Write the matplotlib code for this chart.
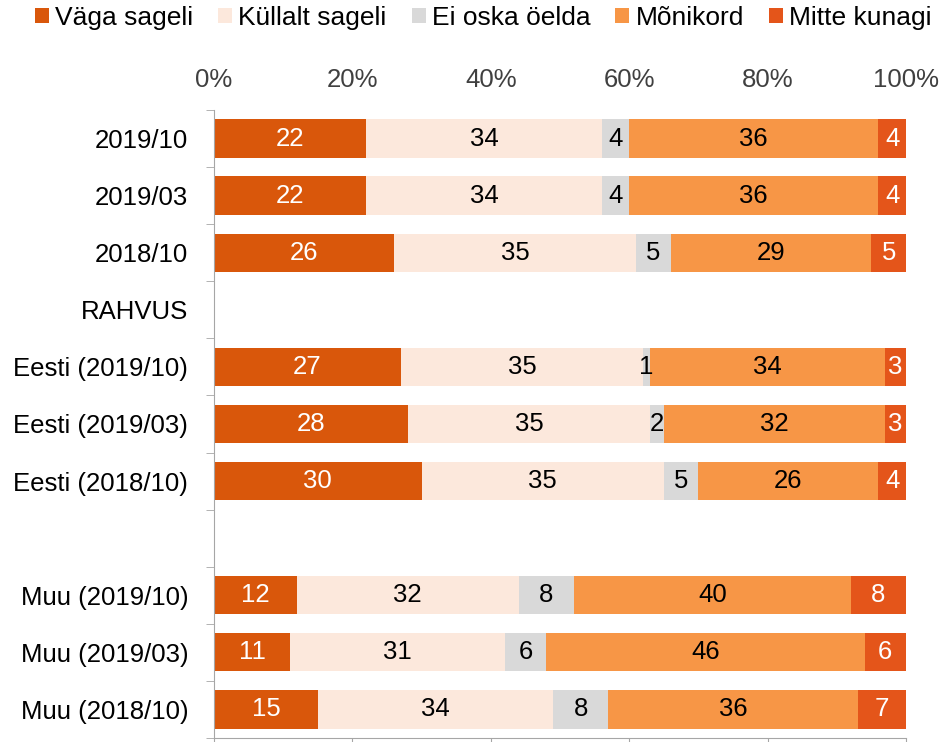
import numpy as np
import matplotlib.pyplot as plt

plt.rcParams['font.family'] = ['Liberation Sans', 'DejaVu Sans']

categories = ['2019/10', '2019/03', '2018/10', 'RAHVUS',
              'Eesti (2019/10)', 'Eesti (2019/03)', 'Eesti (2018/10)', '',
              'Muu (2019/10)', 'Muu (2019/03)', 'Muu (2018/10)']
series = ['Väga sageli', 'Küllalt sageli', 'Ei oska öelda', 'Mõnikord', 'Mitte kunagi']
# None = empty row
vaga = [22, 22, 26, None, 27, 28, 30, None, 12, 11, 15]
kullalt = [34, 34, 35, None, 35, 35, 35, None, 32, 31, 34]
eioska = [4, 4, 5, None, 1, 2, 5, None, 8, 6, 8]
monikord = [36, 36, 29, None, 34, 32, 26, None, 40, 46, 36]
mitte = [4, 4, 5, None, 3, 3, 4, None, 8, 6, 7]

colors = ['#D9570B', '#FCE8DC', '#D9D9D9', '#F79646', '#E4551A']
text_colors = ['white', 'black', 'black', 'black', 'white']

fig = plt.figure(figsize=(9.44, 7.42), dpi=100)
ax = fig.add_axes([0.2267, 0.0054, 0.7331, 0.8464])

y = np.arange(len(categories))
left = np.zeros(len(categories))
for name, vals, c, tc in zip(series, [vaga, kullalt, eioska, monikord, mitte], colors, text_colors):
    v = np.array([0 if x is None else x for x in vals], dtype=float)
    bars = ax.barh(y, v, left=left, height=0.67, color=c, label=name)
    labels = ['' if x is None else str(x) for x in vals]
    ax.bar_label(bars, labels=labels, label_type='center', color=tc, fontsize=18.5)
    left += v

ax.set_xlim(0, 100)
ax.set_ylim(len(categories) - 0.5, -0.5)
ax.set_yticks(y)
ax.set_yticklabels(categories, fontsize=18.5)
ax.set_yticks(np.arange(len(categories) + 1) - 0.5, minor=True)
ax.tick_params(axis='y', which='major', length=0, pad=18.5)
ax.tick_params(axis='y', which='minor', length=6, color='#A6A6A6', direction='out')

ax.set_xticks(np.arange(0, 101, 20))
ax.set_xticklabels([f'{t}%' for t in range(0, 101, 20)], fontsize=18.5, color='#404040')
ax.tick_params(axis='x', top=False, labeltop=True, bottom=True, labelbottom=False,
               length=6, color='#A6A6A6', pad=7)

for s in ['top', 'right']:
    ax.spines[s].set_visible(False)
for s in ['left', 'bottom']:
    ax.spines[s].set_color('#A6A6A6')

fig.legend(loc='center left', bbox_to_anchor=(35 / 944, 1 - 18 / 742), ncol=5, frameon=False,
           fontsize=19, handlelength=0.53, handleheight=0.5, handletextpad=0.23,
           columnspacing=0.95, borderpad=0, borderaxespad=0)

fig.savefig('out.png', dpi=100)
